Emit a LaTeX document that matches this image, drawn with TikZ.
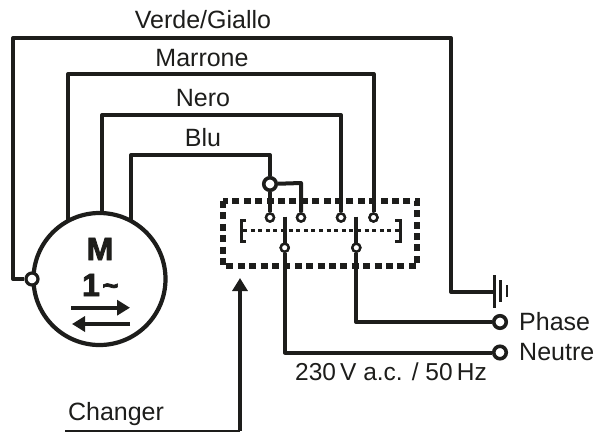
\documentclass[tikz,border=0pt]{standalone}
\usepackage{fontspec}
\setmainfont{Liberation Sans}
\newfontfamily\heavy[FakeBold=2.5]{Liberation Sans Bold}
\usetikzlibrary{arrows.meta}
\definecolor{ink}{HTML}{1D1D1B}
\tikzset{
  wire/.style={draw=ink,line width=4pt,line join=round},
  thin wire/.style={draw=ink,line width=3pt},
  term/.style={circle,draw=ink,fill=white,line width=2.4pt,inner sep=0pt,minimum size=8pt},
  bigterm/.style={circle,draw=ink,fill=white,line width=3.6pt,inner sep=0pt,minimum size=12.5pt},
  lab/.style={text=ink,font=\fontsize{25}{25}\selectfont,inner sep=0pt,anchor=base},
  boxdash/.style={draw=ink,line width=5.4pt,dash pattern=on 7pt off 4.4pt},
  innerdash/.style={draw=ink,line width=3pt,dash pattern=on 4pt off 3.6pt},
  headed/.style={draw=ink,line width=3.6pt,-{Triangle[length=13pt,width=15pt]}},
}
\begin{document}
\begin{tikzpicture}[x=1pt,y=-1pt]
\useasboundingbox (0,0) rectangle (596,432);
% motor
\node[circle,draw=ink,line width=4.2pt,inner sep=0pt,minimum size=132pt] (motor) at (99.5,279) {};
\coordinate (mA) at (68,222);
\coordinate (mB) at (102,213);
\coordinate (mC) at (131,220);
% terminals
\coordinate (g) at (494,292);
\node[term,minimum size=12pt,line width=3.2pt] (tG) at (32,279) {};
\node[bigterm] (J) at (270,184) {};
\node[term] (t1) at (270,217.5) {};
\node[term] (t2) at (301,217.5) {};
\node[term] (t3) at (341,217.5) {};
\node[term] (t4) at (373.5,217.5) {};
\node[term] (c1) at (284.7,247.7) {};
\node[term] (c2) at (356.3,247.7) {};
\node[bigterm] (phase) at (500,322) {};
\node[bigterm] (neutre) at (500,352.5) {};
\coordinate (c1top) at (284.7,216.5);
\coordinate (c2top) at (356.3,216.5);
% wires
\draw[wire] (tG) -- (13,279) -- (13,38) -- (451,38) -- (451,292) -- (g);
\draw[wire] (mA) -- (68,74) -- (373.5,74) -- (t4);
\draw[wire] (mB) -- (102,115) -- (341,115) -- (t3);
\draw[wire] (mC) -- (131,155) -- (270,155) -- (J);
\draw[wire] (J) -- (t1);
\draw[wire] (J) -- (301,183) -- (t2);
\draw[wire] (c1top) -- (c1);
\draw[wire] (c2top) -- (c2);
\draw[wire] (c1) -- (284.7,352.5) -- (neutre);
\draw[wire] (c2) -- (356.3,322) -- (phase);
% ground
\coordinate (g1a) at (494,275); \coordinate (g1b) at (494,308);
\coordinate (g2a) at (500.5,280); \coordinate (g2b) at (500.5,302);
\coordinate (g3a) at (507,285); \coordinate (g3b) at (507,297);
\draw[wire,line width=3pt] (g1a) -- (g1b);
\draw[wire,line width=2.6pt] (g2a) -- (g2b);
\draw[wire,line width=2.6pt] (g3a) -- (g3b);
% dashed switch box
\draw[boxdash] (223,201) rectangle (417,266);
% inner dashed link and brackets
\draw[innerdash] (243,230) -- (400,230);
\draw[thin wire] (246,220) -- (241.5,220) -- (241.5,241) -- (246,241);
\draw[thin wire] (395,220) -- (400,220) -- (400,241) -- (395,241);
\foreach \n in {c1,c2,t1,t2,t3,t4}{\node[term] at (\n) {};}
% motor arrows
\coordinate (ar1) at (71,307.7); \coordinate (ar2) at (130,307.7);
\coordinate (al1) at (130,324); \coordinate (al2) at (72,324);
\draw[headed] (ar1) -- (ar2);
\draw[headed] (al1) -- (al2);
\node[lab,font=\fontsize{32}{32}\heavy\selectfont] (M) at (100,260) {M};
\node[lab,font=\fontsize{32}{32}\heavy\selectfont] (one) at (91,296) {1};
\node[lab,font=\fontsize{28}{28}\heavy\selectfont] (tilde) at (110.5,295) {\char"007E};
% changer
\coordinate (ch0) at (65,431);
\coordinate (ch1) at (240,431);
\coordinate (ch2) at (240,278);
\draw[draw=ink,line width=2pt] (ch0) -- (ch1);
\draw[headed] (ch1) -- (ch2);
% labels
\node[lab] (lv) at (203,28) {Verde/Giallo};
\node[lab] (lm) at (202,66) {Marrone};
\node[lab] (ln) at (203,106) {Nero};
\node[lab] (lb) at (203,146) {Blu};
\node[lab,anchor=base west] (lp) at (519,330) {Phase};
\node[lab,anchor=base west] (ln2) at (519,360) {Neutre};
\node[lab,font=\fontsize{24.5}{25}\selectfont] (lv2) at (391,380) {230\,V a.c. / 50\,Hz};
\node[lab] (lc) at (116,420) {Changer};
\end{tikzpicture}
\end{document}
